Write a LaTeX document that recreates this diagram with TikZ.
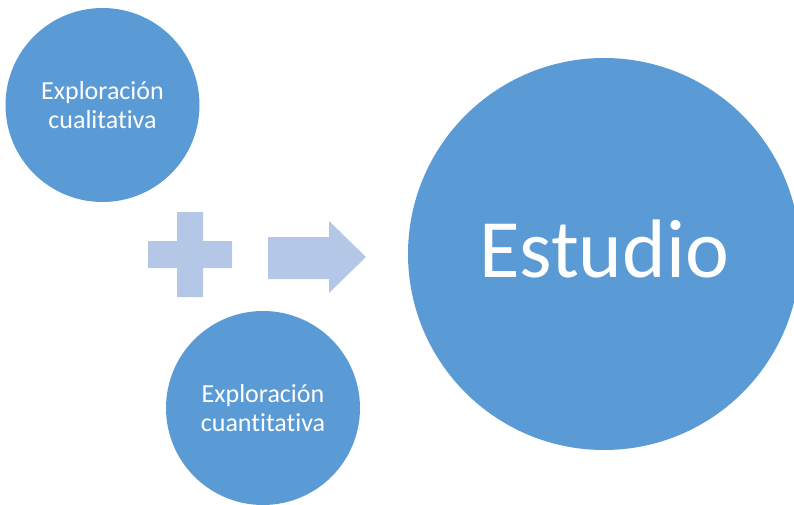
\documentclass[tikz,border=0pt]{standalone}
\usepackage{fontspec}
\setmainfont[RawFeature=-liga]{Carlito}
\usetikzlibrary{positioning}
\definecolor{circblue}{HTML}{5B9BD5}
\definecolor{paleblue}{HTML}{B4C7E7}

\begin{document}
\begin{tikzpicture}[x=1pt,y=-1pt,
  bubble/.style={circle,fill=circblue,text=white,inner sep=0pt,align=center},
  small/.style={bubble,minimum size=194pt,font=\fontsize{26}{29.5}\selectfont},
  sign/.style={fill=paleblue}]
  \useasboundingbox (0,0) rectangle (794,505);
  \clip (0,0) rectangle (794,505);
  % the two explorations
  \node[small] (cuali) at (102.5,105) {Exploración\\cualitativa};
  \node[small] (cuanti) at (263,408) {Exploración\\cuantitativa};
  % the study
  \node[bubble,minimum size=392pt,text height=46pt,text depth=0pt,
    font=\fontsize{83}{90}\selectfont] (estudio) at (604,254) {Estudio};
  % plus sign and arrow
  \fill[sign] (177,212)--(203,212)--(203,241)--(232,241)--(232,268)--(203,268)
    --(203,297)--(177,297)--(177,268)--(148,268)--(148,241)--(177,241)--cycle;
  \fill[sign] (268,237)--(329,237)--(329,221)--(366,257)--(329,293)--(329,279)
    --(268,279)--cycle;
\end{tikzpicture}
\end{document}
